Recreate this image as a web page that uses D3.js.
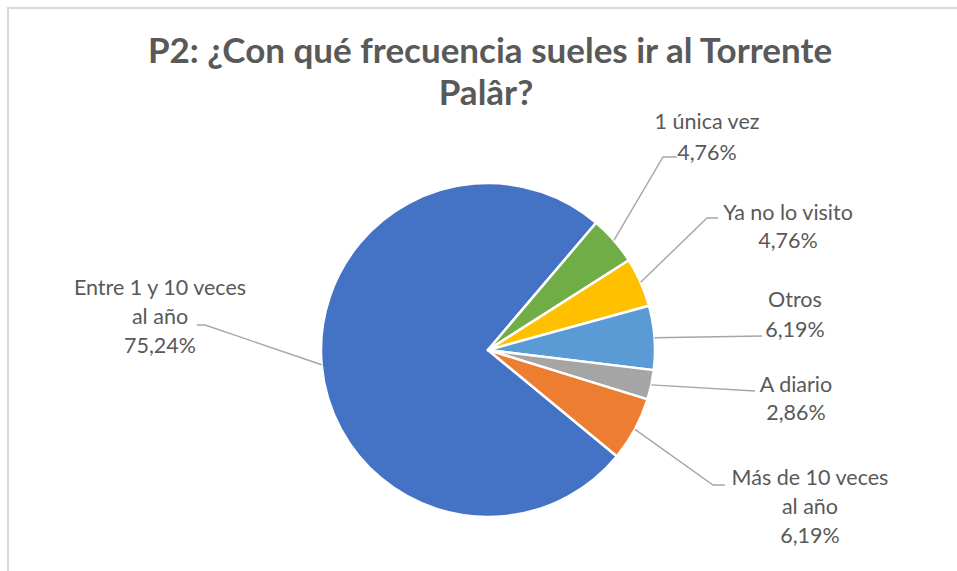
<!DOCTYPE html>
<html lang="es">
<head>
  <meta charset="utf-8">
  <title>P2 pie</title>
  <style>
    body { margin: 0; background: #fff; }
    svg { display: block; }
    text { font-family: Lato, "Open Sans", sans-serif; fill: #595959; }
  </style>
</head>
<body>
  <script src="https://cdn.jsdelivr.net/npm/d3@7"></script>
  <svg></svg>
  <script>

// Data, in clockwise order as drawn
var categories = ['Entre 1 y 10 veces al año', '1 única vez', 'Ya no lo visito', 'Otros', 'A diario', 'Más de 10 veces al año'];
var values = [75.24, 4.76, 4.76, 6.19, 2.86, 6.19];
var labelLines = [
  ['Entre 1 y 10 veces', 'al año', '75,24%'],
  ['1 única vez', '4,76%'],
  ['Ya no lo visito', '4,76%'],
  ['Otros', '6,19%'],
  ['A diario', '2,86%'],
  ['Más de 10 veces', 'al año', '6,19%']
];
var colors = ['#4472C4', '#70AD47', '#FFC000', '#5B9BD5', '#A5A5A5', '#ED7D31'];

var width = 957, height = 571;
var cx = 488, cy = 350, radius = 167;
var startDeg = 129.5; // angle of first slice

// label placement relative to pie centre: text centre x, first baseline y, elbow, end
var labelLayout = [
  {tx: -328, ty: -55, line: 29, elbow: [-283, -25], end: [-291, -25]},
  {tx: 219, ty: -221, line: 31, elbow: [175, -193], end: [189, -193]},
  {tx: 300, ty: -130, line: 28, elbow: [219, -132], end: [230, -132]},
  {tx: 307, ty: -43, line: 30, elbow: null, end: [274, -14]},
  {tx: 308, ty: 42, line: 28, elbow: null, end: [267, 41]},
  {tx: 322, ty: 135, line: 29, elbow: [225, 135], end: [237, 135]}
];

var svg = d3.select('svg')
            .attr('width', width)
            .attr('height', height);

// chart area border (top and left edges visible)
svg.append('path')
   .attr('d', 'M8,' + height + 'V8H' + width)
   .attr('fill', 'none')
   .attr('stroke', '#D9D9D9')
   .attr('stroke-width', 2);

// title
var title = svg.append('text')
   .attr('text-anchor', 'middle')
   .attr('font-weight', 'bold')
   .attr('font-size', '30px');
title.append('tspan').attr('x', 490).attr('y', 63).text('P2: ¿Con qué frecuencia sueles ir al Torrente');
title.append('tspan').attr('x', 486).attr('y', 105).text('Palâr?');

// fit title width to the reference (Calibri is narrower than the fallback fonts)
var tw = title.select('tspan').node().getComputedTextLength();
title.attr('font-size', (30 * 684 / tw).toFixed(1) + 'px');

var pie = d3.pie()
            .sort(null)
            .value(function(d) { return d; })
            .startAngle(startDeg * Math.PI / 180)
            .endAngle(startDeg * Math.PI / 180 + 2 * Math.PI);

var arcs = pie(values);

var arc = d3.arc().innerRadius(0).outerRadius(radius);
var edge = d3.arc().innerRadius(radius).outerRadius(radius);

var g = svg.append('g')
           .attr('transform', 'translate(' + cx + ',' + cy + ')');

g.selectAll('path.slice')
 .data(arcs)
 .enter()
 .append('path')
 .attr('class', 'slice')
 .attr('d', arc)
 .attr('fill', function(d, i) { return colors[i]; })
 .attr('stroke', '#fff')
 .attr('stroke-width', 2.5)
 .attr('stroke-linejoin', 'round');

// leader lines
g.selectAll('path.leader')
 .data(arcs)
 .enter()
 .append('path')
 .attr('class', 'leader')
 .attr('d', function(d, i) {
    var p = edge.centroid(d), L = labelLayout[i];
    var pts = [p];
    if (L.elbow) pts.push(L.elbow);
    pts.push(L.end);
    return d3.line()(pts);
  })
 .attr('fill', 'none')
 .attr('stroke', '#A6A6A6')
 .attr('stroke-width', 1.4);

// labels
g.selectAll('text.lbl')
 .data(arcs)
 .enter()
 .append('text')
 .attr('class', 'lbl')
 .attr('text-anchor', 'middle')
 .attr('font-size', '21.5px')
 .each(function(d, i) {
    var L = labelLayout[i];
    d3.select(this).selectAll('tspan')
      .data(labelLines[i])
      .enter()
      .append('tspan')
      .attr('x', L.tx)
      .attr('y', function(t, j) { return L.ty + j * L.line; })
      .text(function(t) { return t; });
  });

  </script>
</body>
</html>
